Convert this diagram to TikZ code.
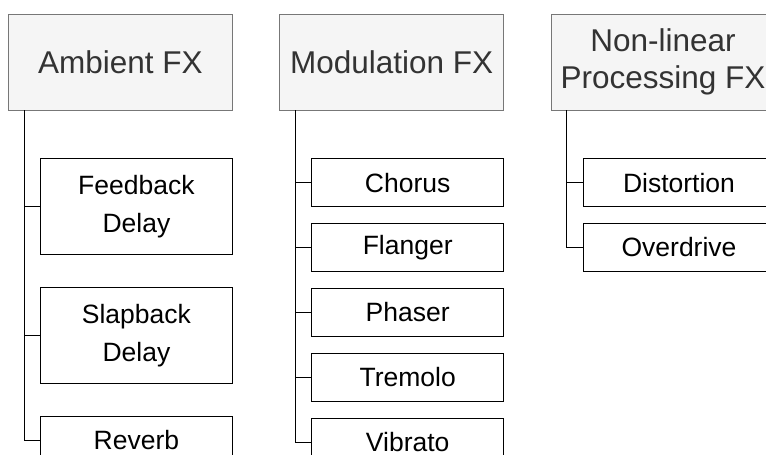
\documentclass[tikz,border=0pt]{standalone}
\usepackage{fontspec}
\setmainfont{Liberation Sans}
\usetikzlibrary{positioning}
\definecolor{hdrfill}{HTML}{F5F5F5}
\definecolor{hdrline}{HTML}{777777}
\definecolor{hdrtext}{HTML}{333333}
\begin{document}
\begin{tikzpicture}[
x=1pt, y=1pt,
line width=0.8pt,
fxgroup/.style={draw=hdrline, fill=hdrfill, text=hdrtext, minimum width=224pt, minimum height=96pt, inner sep=0pt, align=center, font=\fontsize{31.5}{37}\selectfont},
fxitem/.style={draw=black, fill=white, minimum width=192pt, minimum height=48pt, inner sep=0pt, align=center, font=\fontsize{26.5}{38}\selectfont},
fxtall/.style={fxitem, minimum height=96pt},
link/.style={draw=black}
]
\useasboundingbox (0,0) rectangle (766,-455);
\clip (0,0) rectangle (766,-455);

\node[fxgroup, anchor=north west] (amb) at (8,-13.5) {Ambient FX};
\node[fxgroup, right=46.5pt of amb] (mod) {Modulation FX};
\node[fxgroup, right=46.5pt of mod] (nonlin) {Non-linear\\Processing FX};

% ambient
\node[fxtall, below right=48pt and 32pt of amb.south west] (fbdelay) {Feedback\\Delay};
\node[fxtall, below=32pt of fbdelay] (slapdelay) {Slapback\\Delay};
\node[fxitem, below=32pt of slapdelay] (reverb) {Reverb};

% modulation
\node[fxitem, below right=48pt and 32pt of mod.south west] (chorus) {Chorus};
\node[fxitem, below=16pt of chorus] (flanger) {Flanger};
\node[fxitem, below=16pt of flanger] (phaser) {Phaser};
\node[fxitem, below=16pt of phaser] (tremolo) {Tremolo};
\node[fxitem, below=16pt of tremolo] (vibrato) {Vibrato};

% non-linear
\node[fxitem, below right=48pt and 32pt of nonlin.south west] (distort) {Distortion};
\node[fxitem, below=16pt of distort] (overdrive) {Overdrive};

\foreach \fx in {fbdelay, slapdelay, reverb}
    \draw[link] ([xshift=16pt]amb.south west) |- (\fx.west);
\foreach \fx in {chorus, flanger, phaser, tremolo, vibrato}
    \draw[link] ([xshift=16pt]mod.south west) |- (\fx.west);
\foreach \fx in {distort, overdrive}
    \draw[link] ([xshift=16pt]nonlin.south west) |- (\fx.west);

\end{tikzpicture}
\end{document}
